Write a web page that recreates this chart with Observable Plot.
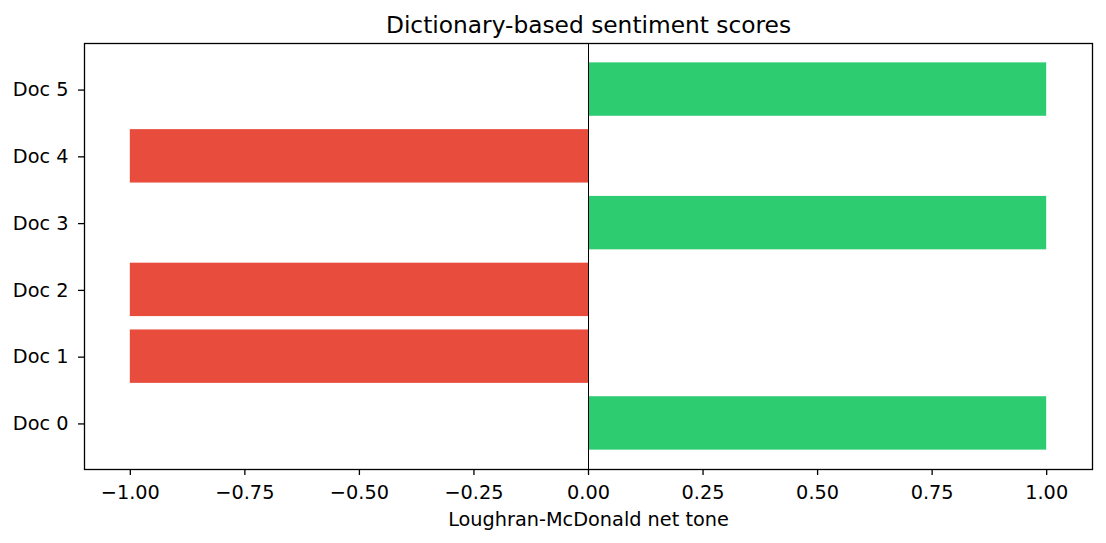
<!DOCTYPE html>
<html><head><meta charset="utf-8">
<script src="https://cdn.jsdelivr.net/npm/d3@7"></script>
<script src="https://cdn.jsdelivr.net/npm/@observablehq/plot@0.6"></script>
<style>body{margin:0;background:#fff;}</style>
</head><body><div id="chart"></div>
<script>
const docs = ["Doc 0", "Doc 1", "Doc 2", "Doc 3", "Doc 4", "Doc 5"];
const scores = [1, -1, -1, 1, -1, 1];
const xTicks = [-1, -0.75, -0.5, -0.25, 0, 0.25, 0.5, 0.75, 1];
const titleText = "Dictionary-based sentiment scores";
const xLabelText = "Loughran-McDonald net tone";
const toneKeys = ["negative", "positive"];
const toneColors = ["#e74c3c", "#2ecc71"];

const data = docs.map((d, i) => ({doc: d, score: scores[i], tone: scores[i] > 0 ? "positive" : "negative"}));

const chart = Plot.plot({
  width: 1106, height: 543,
  marginTop: 43, marginBottom: 74, marginLeft: 84, marginRight: 14,
  style: {fontFamily: "DejaVu Sans", fontSize: "19.3px", color: "#000", background: "#fff"},
  x: {domain: [-1.1, 1.1]},
  y: {type: "band", domain: docs.slice().reverse(), paddingInner: 0.2, paddingOuter: 0.29, round: false},
  color: {domain: toneKeys, range: toneColors},
  marks: [
    Plot.barX(data, {x: "score", y: "doc", fill: "tone"}),
    Plot.ruleX([0], {stroke: "#000", strokeWidth: 1}),
    Plot.frame({stroke: "#000", strokeWidth: 1.3}),
    Plot.axisX({ticks: xTicks, tickFormat: d3.format(".2f"), tickSize: 6, tickPadding: 9.5, stroke: "#000", strokeWidth: 1.3, label: null, fontSize: 19.3, fill: "#000"}),
    Plot.axisY({tickSize: 6, tickPadding: 10, stroke: "#000", strokeWidth: 1.3, label: null, fontSize: 19.3, fill: "#000", dy: 0.5}),
    Plot.text([titleText], {frameAnchor: "top", lineAnchor: "middle", dy: -18.4, fontSize: 23.3, fill: "#000"}),
    Plot.text([xLabelText], {frameAnchor: "bottom", lineAnchor: "middle", dy: 50, fontSize: 19.3, fill: "#000"})
  ]
});
document.getElementById("chart").appendChild(chart);
</script>
</body></html>
